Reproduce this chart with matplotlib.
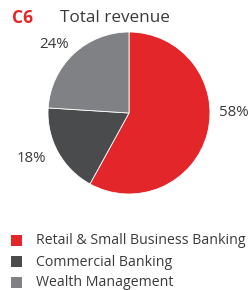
import matplotlib
matplotlib.use("Agg")
import matplotlib.pyplot as plt
from matplotlib.patches import Rectangle

# data
segments = ["Retail & Small Business Banking", "Commercial Banking", "Wealth Management"]
shares = [58, 18, 24]
colors = ["#e3262a", "#4a4b4d", "#808184"]
pct_labels = ["58%", "18%", "24%"]

TEXT = "#3a3a3a"
plt.rcParams["font.family"] = ["Open Sans", "DejaVu Sans"]

W, H = 250, 290
fig = plt.figure(figsize=(W / 100, H / 100), dpi=100)

# pie: centre (129, 113) px from top-left, radius 81 px
cx, cy, r = 129, 113, 81
ax = fig.add_axes([(cx - r) / W, (H - cy - r) / H, 2 * r / W, 2 * r / H])
ax.pie(shares, colors=colors, startangle=90, counterclock=False,
       wedgeprops=dict(linewidth=0.6, edgecolor="white"))
ax.set_xlim(-1, 1)
ax.set_ylim(-1, 1)
ax.set_aspect("equal")
ax.axis("off")

# percentage labels outside the pie
label_pos = [(1.30, 0.01), (-1.20, -0.56), (-0.93, 0.84)]
for txt, (lx, ly) in zip(pct_labels, label_pos):
    ax.text(lx, ly, txt, ha="center", va="center", fontsize=10.8, color=TEXT,
            clip_on=False)

# title
fig.text(12 / W, 1 - 18 / H, "C6", color="#e3262a", fontsize=12.5,
         fontweight="bold", va="center", ha="left")
fig.text(60 / W, 1 - 18 / H, "Total revenue", color=TEXT, fontsize=12.3,
         va="center", ha="left")

# legend
for i, (name, c) in enumerate(zip(segments, colors)):
    y = 241 + i * 21
    fig.patches.append(Rectangle((11 / W, 1 - (y + 5) / H), 11 / W, 11 / H,
                                 transform=fig.transFigure, facecolor=c,
                                 edgecolor="none"))
    fig.text(36 / W, 1 - y / H, name, color=TEXT, fontsize=10.2,
             va="center", ha="left")

fig.savefig("out.png", dpi=100, facecolor="white")
